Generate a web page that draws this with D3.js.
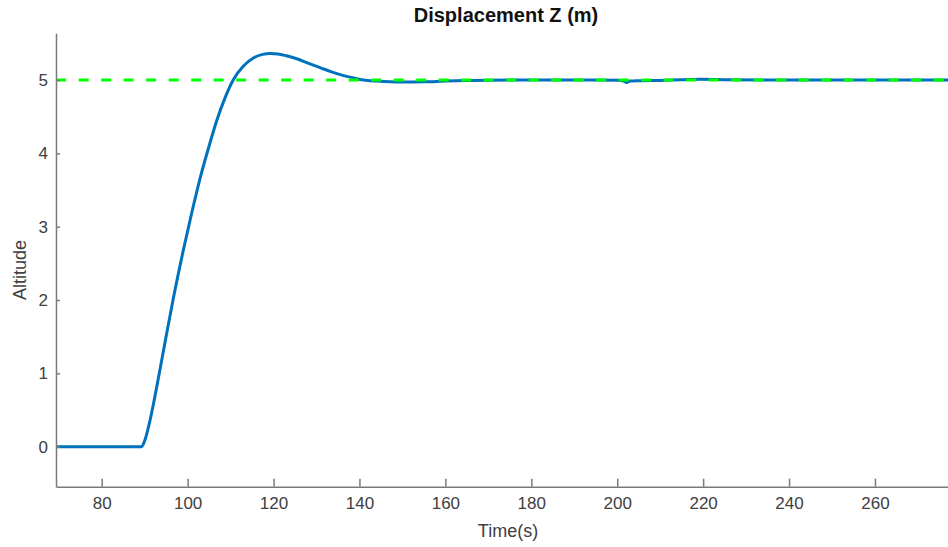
<!DOCTYPE html>
<html>
<head>
<meta charset="utf-8">
<script src="https://cdn.jsdelivr.net/npm/d3@7"></script>
<style>
  html, body { margin: 0; padding: 0; background: #fff; }
  svg { display: block; font-family: "Liberation Sans", Arial, Helvetica, sans-serif; }
</style>
</head>
<body>
<svg id="chart" width="948" height="547"></svg>
<script>
// Measured altitude response (time in seconds, altitude in metres)
const timeS = [69.4, 75, 80, 85, 89.3, 90, 91.25, 92.5, 94.35, 96.7, 99.0, 101, 102.9, 105, 106.8, 108.8,
  110.6, 113, 115.3, 117.5, 119.2, 121, 123, 125.4, 128, 130.8, 133.5, 136.3, 138.5, 140.9, 144, 147.1,
  150, 155, 160, 165, 170, 180, 190, 200, 201.5, 202.2, 203, 205, 210, 215, 219.3, 225, 235, 250, 265, 277];
const altitude = [0, 0, 0, 0, 0, 0.08, 0.36, 0.72, 1.3, 2.03, 2.68, 3.2, 3.66, 4.1, 4.45, 4.77,
  5.0, 5.19, 5.3, 5.35, 5.36, 5.355, 5.33, 5.29, 5.23, 5.17, 5.11, 5.06, 5.03, 5.0, 4.985, 4.975,
  4.972, 4.975, 4.985, 4.993, 4.998, 5.0, 5.0, 4.998, 4.985, 4.965, 4.985, 4.99, 4.995, 5.003, 5.01, 5.005, 5.0, 5.0, 5.0, 5.0];

// Setpoint (reference altitude)
const setpointTime = [69.4, 277];
const setpointValue = [5, 5];

const xTicks = [80, 100, 120, 140, 160, 180, 200, 220, 240, 260];
const yTicks = [0, 1, 2, 3, 4, 5];

const titleText = "Displacement Z (m)";
const xLabel = "Time(s)";
const yLabel = "Altitude";

const svg = d3.select("#chart");
const plotLeft = 56, plotRight = 948, plotTop = 33.3, plotBottom = 486.7;

const x = d3.scaleLinear().domain([69.36, 277.0]).range([plotLeft, plotRight]);
const y = d3.scaleLinear().domain([-0.546, 5.637]).range([plotBottom, plotTop]);

const axisColor = "#7a7a7a";
const textColor = "#404040";

// Plot area clip
svg.append("defs").append("clipPath").attr("id", "plotClip")
  .append("rect").attr("x", plotLeft).attr("y", plotTop)
  .attr("width", plotRight - plotLeft).attr("height", plotBottom - plotTop);

const plot = svg.append("g").attr("clip-path", "url(#plotClip)");

const line = d3.line()
  .x(d => x(d[0]))
  .y(d => y(d[1]))
  .curve(d3.curveMonotoneX);

plot.append("path")
  .datum(timeS.map((t, i) => [t, altitude[i]]))
  .attr("d", line)
  .attr("fill", "none")
  .attr("stroke", "#0072BD")
  .attr("stroke-width", 3)
  .attr("stroke-linejoin", "round");

plot.append("path")
  .datum(setpointTime.map((t, i) => [t, setpointValue[i]]))
  .attr("d", d3.line().x(d => x(d[0])).y(d => y(d[1])))
  .attr("fill", "none")
  .attr("stroke", "#00ff00")
  .attr("stroke-width", 3)
  .attr("stroke-dasharray", "10,12.5");

// X axis (ticks point inward)
const xAxis = svg.append("g")
  .attr("transform", `translate(0,${plotBottom})`)
  .call(d3.axisBottom(x).tickValues(xTicks).tickFormat(d3.format("d"))
    .tickSizeInner(-8).tickSizeOuter(0));
xAxis.select(".domain").attr("stroke", axisColor).attr("stroke-width", 1.5);
xAxis.selectAll(".tick line").attr("stroke", axisColor).attr("stroke-width", 1.5);
xAxis.selectAll(".tick text").attr("fill", textColor).attr("font-size", 17)
  .attr("y", 10).attr("dy", "0.71em");

// Y axis
const yAxis = svg.append("g")
  .attr("transform", `translate(${plotLeft},0)`)
  .call(d3.axisLeft(y).tickValues(yTicks).tickFormat(d3.format("d"))
    .tickSizeInner(-4).tickSizeOuter(0));
yAxis.select(".domain").attr("stroke", axisColor).attr("stroke-width", 1.5);
yAxis.selectAll(".tick line").attr("stroke", axisColor).attr("stroke-width", 1.5);
yAxis.selectAll(".tick text").attr("fill", textColor).attr("font-size", 17).attr("x", -8);

// Title and axis labels
svg.append("text")
  .attr("x", 506).attr("y", 22)
  .attr("text-anchor", "middle")
  .attr("font-weight", "bold")
  .attr("font-size", 20)
  .attr("fill", "#111")
  .text(titleText);

svg.append("text")
  .attr("x", 508).attr("y", 537)
  .attr("text-anchor", "middle")
  .attr("font-size", 18)
  .attr("fill", textColor)
  .text(xLabel);

svg.append("text")
  .attr("transform", "translate(26,270) rotate(-90)")
  .attr("text-anchor", "middle")
  .attr("font-size", 18)
  .attr("fill", textColor)
  .text(yLabel);
</script>
</body>
</html>
